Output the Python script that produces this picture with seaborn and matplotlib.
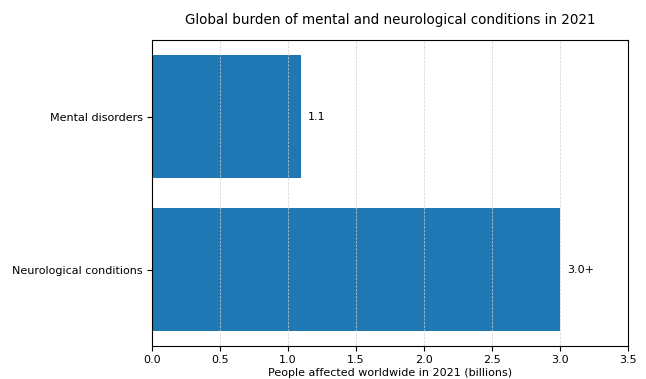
import matplotlib
matplotlib.use("Agg")
import matplotlib.pyplot as plt
import seaborn as sns
import pandas as pd

sns.set_style("ticks")
plt.rcParams['font.family'] = ['DejaVu Sans']
plt.rcParams['text.color'] = 'black'
plt.rcParams['xtick.color'] = 'black'
plt.rcParams['ytick.color'] = 'black'
plt.rcParams['axes.labelcolor'] = 'black'

# data
categories = ["Mental disorders", "Neurological conditions"]
people_billions = [1.1, 3.0]
bar_labels = ["1.1", "3.0+"]

df = pd.DataFrame({"condition": categories, "people": people_billions})

fig, ax = plt.subplots(figsize=(6.46, 3.79), dpi=100)
fig.subplots_adjust(left=0.235, right=0.972, top=0.894, bottom=0.087)

sns.barplot(data=df, x="people", y="condition", orient="h", color="#1f77b4",
            saturation=1, width=0.8, linewidth=0, ax=ax)

for i, (v, lab) in enumerate(zip(people_billions, bar_labels)):
    ax.text(v + 0.05, i, lab, va="center", ha="left", fontsize=8)

ax.set_xlim(0, 3.5)
ax.set_ylim(1.5, -0.5)
ax.set_xticks([0, 0.5, 1.0, 1.5, 2.0, 2.5, 3.0, 3.5])
ax.xaxis.grid(True, linestyle="--", linewidth=0.5, color="#d0d0d0")
ax.set_axisbelow(False)
for s in ax.spines.values():
    s.set_visible(True)
    s.set_color("black")
    s.set_linewidth(0.8)
    s.set_zorder(5)
ax.tick_params(labelsize=8, length=3.5, width=0.8, color="black", pad=3)
ax.set_ylabel("")
ax.set_xlabel("People affected worldwide in 2021 (billions)", fontsize=8, labelpad=2)
ax.set_title("Global burden of mental and neurological conditions in 2021",
             fontsize=9.75, pad=12)

fig.savefig("out.png", dpi=100)
